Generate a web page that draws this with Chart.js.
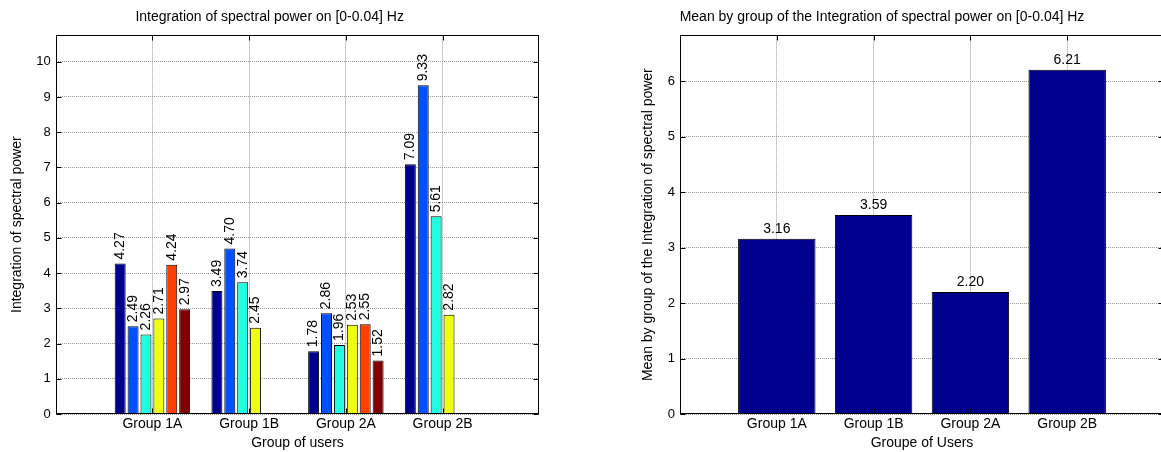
<!DOCTYPE html>
<html>
<head>
<meta charset="utf-8">
<script src="https://cdn.jsdelivr.net/npm/chart.js@4.4.0/dist/chart.umd.min.js"></script>
<style>
  html, body { margin: 0; padding: 0; background: #fff; overflow: hidden; width: 1161px; height: 452px; }
  #leftChart { position: absolute; left: 0; top: 0; }
  #rightChart { position: absolute; left: 600px; top: 0; }
</style>
</head>
<body>
<canvas id="leftChart" width="595" height="452"></canvas>
<canvas id="rightChart" width="644" height="452"></canvas>
<script>
"use strict";

// Data
const groups = ["Group 1A", "Group 1B", "Group 2A", "Group 2B"];
const user1 = [4.27, 3.49, 1.78, 7.09];
const user2 = [2.49, 4.70, 2.86, 9.33];
const user3 = [2.26, 3.74, 1.96, 5.61];
const user4 = [2.71, 2.45, 2.53, 2.82];
const user5 = [4.24, 0, 2.55, 0];
const user6 = [2.97, 0, 1.52, 0];
const groupMeans = [3.16, 3.59, 2.20, 6.21];
const leftYTicks = [0, 1, 2, 3, 4, 5, 6, 7, 8, 9, 10];
const rightYTicks = [0, 1, 2, 3, 4, 5, 6];

// jet-like colours used by MATLAB grouped bars
const userColors = ["#00008f", "#0050ff", "#20ffdf", "#efff10", "#ff4000", "#800000"];

Chart.defaults.font.family = "'Liberation Sans', Arial, Helvetica, sans-serif";
Chart.defaults.font.size = 14;
Chart.defaults.color = "#000";

// groups sit at x = 1..4 on a 0..5 axis
const toPoints = (values) => values.map((v, i) => ({ x: i + 1, y: v }));

// value labels above each bar
const barValueLabels = {
  id: "barValueLabels",
  afterDatasetsDraw(chart, args, opts) {
    const ctx = chart.ctx;
    ctx.save();
    ctx.font = "14px 'Liberation Sans', Arial, sans-serif";
    ctx.fillStyle = "#000";
    chart.data.datasets.forEach((ds, i) => {
      chart.getDatasetMeta(i).data.forEach((bar, j) => {
        const v = ds.data[j].y;
        if (!v) return;
        const text = v.toFixed(2);
        if (opts.rotate) {
          ctx.save();
          ctx.translate(bar.x, bar.y - 4);
          ctx.rotate(-Math.PI / 2);
          ctx.textAlign = "left";
          ctx.textBaseline = "middle";
          ctx.fillText(text, 0, 0);
          ctx.restore();
        } else {
          ctx.textAlign = "center";
          ctx.textBaseline = "bottom";
          ctx.fillText(text, bar.x, bar.y - 3);
        }
      });
    });
    ctx.restore();
  }
};

// black box round the plot with inward ticks, like MATLAB axes
const axesBox = {
  id: "axesBox",
  afterDraw(chart) {
    const { ctx, chartArea: a, scales } = chart;
    const l = Math.round(a.left) + 0.5, r = Math.round(a.right) - 0.5;
    const t = Math.round(a.top) + 0.5, b = Math.round(a.bottom) - 0.5;
    ctx.save();
    ctx.strokeStyle = "#000";
    ctx.lineWidth = 1;
    ctx.beginPath();
    scales.y.ticks.forEach((tk) => {
      const y = Math.round(scales.y.getPixelForValue(tk.value)) + 0.5;
      ctx.moveTo(l, y); ctx.lineTo(l + 5, y);
      ctx.moveTo(r, y); ctx.lineTo(r - 5, y);
    });
    scales.x.ticks.forEach((tk) => {
      const x = Math.round(scales.x.getPixelForValue(tk.value)) + 0.5;
      ctx.moveTo(x, t); ctx.lineTo(x, t + 5);
      ctx.moveTo(x, b); ctx.lineTo(x, b - 5);
    });
    ctx.stroke();
    ctx.strokeRect(l, t, r - l, b - t);
    ctx.restore();
  }
};

const makeXScale = (titleText) => ({
  type: "linear",
  min: 0,
  max: 5,
  offset: false,
  afterBuildTicks: (axis) => { axis.ticks = groups.map((g, i) => ({ value: i + 1 })); },
  afterFit: (axis) => { axis.height = 38; },
  ticks: {
    padding: 2,
    maxRotation: 0,
    autoSkip: false,
    callback: (v) => groups[v - 1] || ""
  },
  grid: { color: "#999", drawTicks: false, offset: false },
  border: { display: false, dash: [1, 1] },
  title: { display: true, text: titleText, padding: { top: 0, bottom: 0.5 } }
});

const makeYScale = (max, tickList, titleText, axisWidth, titlePad) => ({
  min: 0,
  max: max,
  afterBuildTicks: (axis) => { axis.ticks = tickList.map((v) => ({ value: v })); },
  afterFit: (axis) => { axis.width = axisWidth; },
  ticks: { padding: 5, font: { size: 13 } },
  grid: { color: "#999", drawTicks: false },
  border: { display: false, dash: [1, 1] },
  title: { display: true, text: titleText, padding: { top: titlePad, bottom: 0 } }
});

const titleOpts = (text) => ({
  display: true,
  text: text,
  color: "#000",
  font: { size: 14, weight: "normal" },
  padding: { top: 9, bottom: 9.5 }
});

const userSeries = [user1, user2, user3, user4, user5, user6];

new Chart(document.getElementById("leftChart"), {
  type: "bar",
  data: {
    datasets: userSeries.map((values, i) => ({
      label: "User " + (i + 1),
      data: toPoints(values),
      backgroundColor: userColors[i],
      borderColor: "#000",
      borderWidth: 1,
      categoryPercentage: 0.8,
      barPercentage: 0.85
    }))
  },
  options: {
    responsive: false,
    animation: false,
    layout: { padding: { left: 0, right: 55.7, top: 0, bottom: 0 } },
    plugins: {
      legend: { display: false },
      tooltip: { enabled: false },
      title: titleOpts("Integration of spectral power on [0-0.04] Hz"),
      barValueLabels: { rotate: true }
    },
    scales: {
      x: makeXScale("Group of users"),
      y: makeYScale(10.75, leftYTicks, "Integration of spectral power", 55.7, 9)
    }
  },
  plugins: [barValueLabels, axesBox]
});

new Chart(document.getElementById("rightChart"), {
  type: "bar",
  data: {
    datasets: [{
      label: "Mean",
      data: toPoints(groupMeans),
      backgroundColor: "#00008f",
      borderColor: "#000",
      borderWidth: 1,
      categoryPercentage: 1,
      barPercentage: 0.8
    }]
  },
  options: {
    responsive: false,
    animation: false,
    layout: { padding: { left: 0, right: 80, top: 0, bottom: 0 } },
    plugins: {
      legend: { display: false },
      tooltip: { enabled: false },
      title: titleOpts("Mean by group of the Integration of spectral power on [0-0.04] Hz"),
      barValueLabels: { rotate: false }
    },
    scales: {
      x: makeXScale("Groupe of Users"),
      y: makeYScale(6.83, rightYTicks, "Mean by group of the Integration of spectral power", 80, 39.5)
    }
  },
  plugins: [barValueLabels, axesBox]
});
</script>
</body>
</html>
